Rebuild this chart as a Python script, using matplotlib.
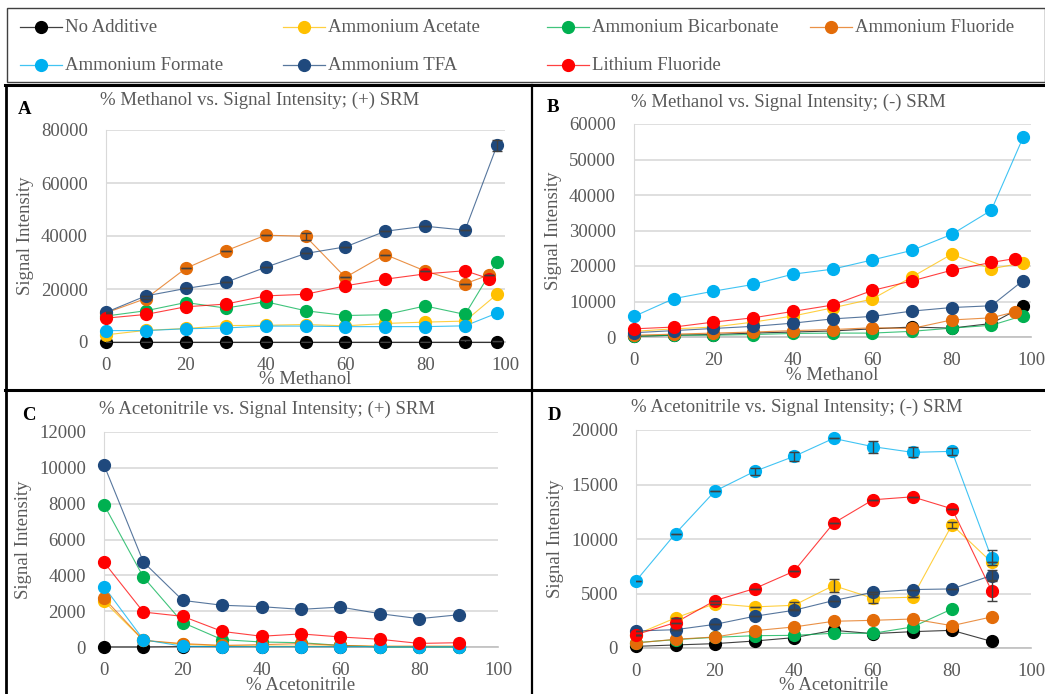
# Mobile phase additive screen: signal intensity vs. % organic
import matplotlib
matplotlib.use('Agg')
import numpy as np
import matplotlib.pyplot as plt
from matplotlib.lines import Line2D
from matplotlib.patches import Rectangle

plt.rcParams['font.family'] = ['Liberation Serif', 'DejaVu Serif']

# ---------------------------------------------------------------
# Data
# ---------------------------------------------------------------
series_names = ['No Additive', 'Ammonium Acetate', 'Ammonium Bicarbonate',
                'Ammonium Fluoride', 'Ammonium Formate', 'Ammonium TFA',
                'Lithium Fluoride']
series_colors = ['#000000', '#FFC000', '#00B050', '#E36C09',
                 '#00B0F0', '#1F497D', '#FF0000']

# % methanol steps (two additives were run at 96 % instead of 98 %)
x_meoh = [0, 10, 20, 30, 40, 50, 60, 70, 80, 90, 98]
x_meoh_alt = [0, 10, 20, 30, 40, 50, 60, 70, 80, 90, 96]
x_acn = [0, 10, 20, 30, 40, 50, 60, 70, 80, 90]

# A: methanol, (+) SRM
meoh_pos = {
    'No Additive':          [0, 0, 0, 0, 0, 0, 0, 0, 0, 0, 0],
    'Ammonium Acetate':     [2700, 4400, 5100, 6200, 6300, 6600, 6100, 7000, 7500, 7900, 18000],
    'Ammonium Bicarbonate': [9800, 11800, 14900, 12800, 15200, 11800, 10000, 10300, 13600, 10400, 30300],
    'Ammonium Fluoride':    [11000, 16400, 27800, 34400, 40300, 39900, 24400, 33000, 26800, 22000, 25300],
    'Ammonium Formate':     [4300, 4300, 5000, 5300, 6000, 6000, 5800, 5800, 5800, 6100, 10900],
    'Ammonium TFA':         [11200, 17400, 20200, 22500, 28200, 33400, 35900, 41800, 43700, 42200, 74200],
    'Lithium Fluoride':     [9000, 10400, 13300, 14300, 17400, 18000, 21200, 23700, 25700, 26900, 23900],
}
meoh_pos_err = {
    'No Additive':       [0, 0, 0, 0, 0, 0, 0, 0, 0, 600, 500],
    'Ammonium Fluoride': [0, 0, 0, 0, 0, 1400, 0, 0, 0, 0, 0],
    'Ammonium TFA':      [0, 0, 0, 0, 0, 0, 0, 0, 0, 0, 2200],
}

# B: methanol, (-) SRM
meoh_neg = {
    'No Additive':          [200, 500, 700, 1100, 1400, 1700, 2300, 2800, 2500, 3800, 8600],
    'Ammonium Acetate':     [1600, 2300, 2800, 4200, 5900, 8200, 10700, 16900, 23300, 19200, 20900],
    'Ammonium Bicarbonate': [200, 500, 500, 700, 1000, 1100, 1100, 1600, 2500, 3300, 6000],
    'Ammonium Fluoride':    [500, 800, 1100, 1400, 1800, 2100, 2600, 2400, 4800, 5400, 7100],
    'Ammonium Formate':     [5800, 10800, 12900, 14800, 17700, 19100, 21700, 24400, 28900, 35700, 56200],
    'Ammonium TFA':         [1200, 1800, 2400, 3000, 3900, 5100, 5800, 7300, 8300, 8800, 15900],
    'Lithium Fluoride':     [2300, 2800, 4200, 5400, 7200, 9000, 13100, 15800, 18800, 21000, 22100],
}

# C: acetonitrile, (+) SRM
acn_pos = {
    'No Additive':          [0, 0, 20, 20, 20, 20, 20, 20, 20, 20],
    'Ammonium Acetate':     [2550, 370, 150, 70, 50, 50, 50, 40, 40, 40],
    'Ammonium Bicarbonate': [7940, 3900, 1360, 410, 280, 240, 90, 0, 0, 0],
    'Ammonium Fluoride':    [2720, 370, 190, 90, 130, 190, 90, 40, 40, 40],
    'Ammonium Formate':     [3370, 410, 40, 20, 20, 20, 20, 20, 10, 20],
    'Ammonium TFA':         [10160, 4740, 2600, 2330, 2250, 2100, 2230, 1860, 1580, 1800],
    'Lithium Fluoride':     [4730, 1950, 1710, 870, 600, 730, 560, 430, 200, 240],
}

# D: acetonitrile, (-) SRM (no bicarbonate point at 90 %)
acn_neg = {
    'No Additive':          [150, 280, 400, 640, 950, 1620, 1320, 1500, 1620, 610],
    'Ammonium Acetate':     [1230, 2760, 4070, 3770, 3920, 5730, 4560, 4660, 11300, 7870],
    'Ammonium Bicarbonate': [490, 770, 980, 1130, 1160, 1350, 1350, 1930, 3580, np.nan],
    'Ammonium Fluoride':    [460, 800, 1010, 1590, 1930, 2450, 2540, 2660, 2050, 2850],
    'Ammonium Formate':     [6160, 10500, 14400, 16200, 17580, 19230, 18470, 17950, 18040, 8270],
    'Ammonium TFA':         [1560, 1680, 2170, 2910, 3460, 4350, 5110, 5360, 5420, 6650],
    'Lithium Fluoride':     [1230, 2330, 4350, 5450, 7040, 11450, 13600, 13870, 12770, 5270],
}
acn_neg_err = {
    'Ammonium Acetate': [0, 0, 0, 0, 300, 600, 400, 0, 300, 0],
    'Ammonium Formate': [0, 0, 0, 300, 400, 0, 550, 450, 300, 700],
    'Ammonium TFA':     [0, 0, 0, 0, 0, 0, 0, 0, 0, 500],
    'Lithium Fluoride': [0, 0, 0, 0, 0, 0, 0, 0, 0, 1000],
}

# ---------------------------------------------------------------
# Figure layout (pixel helpers, origin at top-left)
# ---------------------------------------------------------------
W, H = 1045, 694
fig = plt.figure(figsize=(W / 100, H / 100), dpi=100)
fig.patch.set_facecolor('white')


def fx(px):
    return px / W


def fy(py):
    return 1 - py / H


def add_panel(left, top, right, bottom):
    return fig.add_axes([fx(left), fy(bottom), (right - left) / W, (bottom - top) / H])


FS = 13.5
MS = 8.5
GREY_TXT = '#595959'
GRID = '#D9D9D9'

panels = [
    # letter, title, xlabel, data, errors, ymax, ystep, box, letter pos, title pos
    ('A', '% Methanol vs. Signal Intensity; (+) SRM', '% Methanol', meoh_pos, meoh_pos_err,
     80000, 20000, (106, 130, 505, 342), (18, 110), (260, 100)),
    ('B', '% Methanol vs. Signal Intensity; (-) SRM', '% Methanol', meoh_neg, {},
     60000, 10000, (634, 124, 1031, 337), (547, 108), (788, 102)),
    ('C', '% Acetonitrile vs. Signal Intensity; (+) SRM', '% Acetonitrile', acn_pos, {},
     12000, 2000, (104, 432, 498, 647), (22, 415), (267, 409)),
    ('D', '% Acetonitrile vs. Signal Intensity; (-) SRM', '% Acetonitrile', acn_neg, acn_neg_err,
     20000, 5000, (636, 430, 1031, 648), (548, 415), (797, 407)),
]

for letter, title, xlabel, data, errs, ymax, ystep, box, lpos, tpos in panels:
    ax = add_panel(*box)
    is_meoh = data is meoh_pos or data is meoh_neg
    for name, color in zip(series_names, series_colors):
        if is_meoh:
            xs = x_meoh_alt if name in ('Ammonium Fluoride', 'Lithium Fluoride') else x_meoh
        else:
            xs = x_acn
        ys = np.array(data[name], dtype=float)
        ax.plot(xs, ys, color=color, lw=0.8, alpha=0.75, zorder=3, clip_on=False)
        ax.plot(xs, ys, 'o', color=color, ms=MS, mec=color, zorder=4, clip_on=False)
        if name in errs:
            ax.errorbar(xs, ys, yerr=errs[name], fmt='none', ecolor='#404040',
                        elinewidth=1, capsize=3.5, capthick=1, zorder=5)

    ax.set_xlim(0, 100)
    ax.set_ylim(0, ymax)
    ax.set_xticks(range(0, 101, 20))
    ax.set_yticks(range(0, ymax + 1, ystep))
    ax.yaxis.grid(True, color=GRID, lw=1.2, zorder=0)
    ax.set_axisbelow(True)
    for side in ('top', 'right'):
        ax.spines[side].set_visible(False)
    ax.spines['left'].set_color(GRID)
    ax.spines['bottom'].set_color('#BFBFBF')
    ax.spines['bottom'].set_linewidth(1.2)
    ax.tick_params(length=0, labelsize=FS, labelcolor=GREY_TXT)
    ax.tick_params(axis='x', pad=11)
    ax.tick_params(axis='y', pad=13)
    ax.set_ylabel('Signal Intensity', fontsize=FS, color=GREY_TXT, labelpad=5)
    ax.set_xlabel(xlabel, fontsize=FS, color=GREY_TXT, labelpad=-2)

    fig.text(fx(lpos[0]), fy(lpos[1]), letter, fontsize=FS, fontweight='bold',
             color='black', ha='left', va='center')
    fig.text(fx(tpos[0]), fy(tpos[1]), title, fontsize=FS, color=GREY_TXT,
             ha='center', va='center')

# ---------------------------------------------------------------
# Legend (Excel style, 4 columns x 2 rows)
# ---------------------------------------------------------------
leg_cols = [20, 283, 547, 810]
leg_rows = [27, 65]
for i, (name, color) in enumerate(zip(series_names, series_colors)):
    cx = leg_cols[i % 4]
    cy = leg_rows[i // 4]
    fig.add_artist(Line2D([fx(cx), fx(cx + 42)], [fy(cy), fy(cy)], color=color,
                          lw=0.9, alpha=0.75, transform=fig.transFigure))
    fig.add_artist(Line2D([fx(cx + 21)], [fy(cy)], marker='o', ms=MS, color=color,
                          lw=0, transform=fig.transFigure))
    fig.text(fx(cx + 45), fy(cy), name, fontsize=FS, color=GREY_TXT,
             ha='left', va='center')

# ---------------------------------------------------------------
# Frame lines (table around the panels)
# ---------------------------------------------------------------
fig.add_artist(Rectangle((fx(7), fy(82)), fx(1045) - fx(7), fy(8) - fy(82),
                         fill=False, ec='#404040', lw=1, transform=fig.transFigure))
frame = [
    ((5, 1045), (85, 85), 2.2),
    ((5, 1045), (390, 390), 2.2),
    ((6, 6), (85, 694), 2.0),
    ((532, 532), (85, 694), 1.6),
]
for xs, ys, lw in frame:
    fig.add_artist(Line2D([fx(v) for v in xs], [fy(v) for v in ys], color='black',
                          lw=lw, transform=fig.transFigure))

fig.savefig('out.png', dpi=100)
